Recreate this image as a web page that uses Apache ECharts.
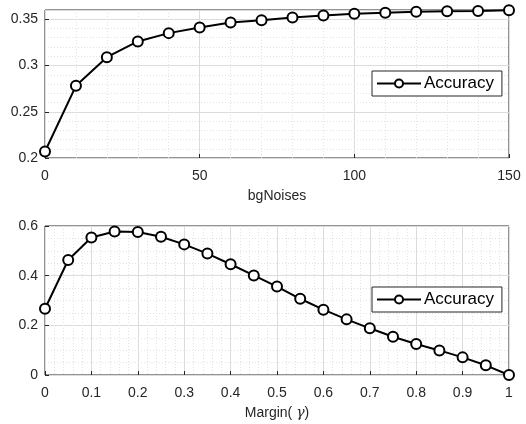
<!DOCTYPE html>
<html>
<head>
<meta charset="utf-8">
<script src="https://cdn.jsdelivr.net/npm/echarts@6/dist/echarts.min.js"></script>
<style>html,body{margin:0;padding:0;background:#fff}#c{width:526px;height:424px}</style>
</head>
<body>
<div id="c"></div>
<script>
// Top panel: accuracy vs bgNoises
var noiseX = [0,10,20,30,40,50,60,70,80,90,100,110,120,130,140,150];
var noiseAcc = [0.207,0.278,0.309,0.326,0.335,0.341,0.3465,0.349,0.352,0.354,0.356,0.357,0.358,0.3587,0.359,0.3597];
// Bottom panel: accuracy vs margin gamma
var marginX = [0,0.05,0.1,0.15,0.2,0.25,0.3,0.35,0.4,0.45,0.5,0.55,0.6,0.65,0.7,0.75,0.8,0.85,0.9,0.95,1];
var marginAcc = [0.267,0.463,0.554,0.578,0.576,0.557,0.526,0.489,0.446,0.401,0.356,0.307,0.263,0.224,0.188,0.154,0.125,0.099,0.071,0.039,0];
var seriesName = 'Accuracy';
var xName1 = 'bgNoises';
var xName2 = 'Margin( {g|γ})';

var FONT = 'Liberation Sans, Arial, sans-serif';
var TXT = '#262626';
var MAJOR = '#dcdcdc';
var MINOR = '#e2e2e2';

function pairs(xs, ys){ return xs.map(function(x,i){ return [x, ys[i]]; }); }

var chart = echarts.init(document.getElementById('c'), null, {renderer:'canvas'});
var lbl = {color: TXT, fontSize: 14, fontFamily: FONT};
var tick = {show:true, inside:true, length:4, lineStyle:{color:TXT}};
var option = {
  backgroundColor: '#fff',
  animation: false,
  grid: [
    {left:45, top:10, width:464, height:148, show:true, borderColor:TXT, borderWidth:1, backgroundColor:'transparent'},
    {left:45, top:226, width:464, height:149, show:true, borderColor:TXT, borderWidth:1, backgroundColor:'transparent'}
  ],
  xAxis: [
    {gridIndex:0, type:'value', min:0, max:150, interval:50,
     axisLine:{show:false}, axisTick:tick,
     axisLabel:Object.assign({margin:11}, lbl),
     splitLine:{show:true, lineStyle:{color:MAJOR, width:1}},
     minorTick:{show:false, splitNumber:5},
     minorSplitLine:{show:true, lineStyle:{color:MINOR, type:[1,2], width:1}},
     name:xName1, nameLocation:'middle', nameGap:31,
     nameTextStyle:{color:TXT, fontSize:14, fontFamily:FONT}},
    {gridIndex:1, type:'value', min:0, max:1, interval:0.1,
     axisLine:{show:false}, axisTick:tick,
     axisLabel:Object.assign({margin:11}, lbl),
     splitLine:{show:true, lineStyle:{color:MAJOR, width:1}},
     minorTick:{show:false, splitNumber:5},
     minorSplitLine:{show:true, lineStyle:{color:MINOR, type:[1,2], width:1}},
     name:xName2, nameLocation:'middle', nameGap:31,
     nameTextStyle:{color:TXT, fontSize:14, fontFamily:FONT,
       rich:{g:{fontStyle:'italic', fontSize:14, fontFamily:'DejaVu Serif, serif', color:TXT}}}}
  ],
  yAxis: [
    {gridIndex:0, type:'value', position:'left', min:0.2, max:0.36, interval:0.01,
     axisLine:{show:false}, axisTick:{show:false}, axisLabel:{show:false},
     splitLine:{show:true, lineStyle:{color:MINOR, type:[1,2], width:1}}},
    {gridIndex:0, type:'value', position:'left', min:0.2, max:0.36, interval:0.05,
     axisLine:{show:false}, axisTick:tick,
     axisLabel:Object.assign({margin:7, showMaxLabel:false}, lbl),
     splitLine:{show:true, lineStyle:{color:MAJOR, width:1}}},
    {gridIndex:1, type:'value', position:'left', min:0, max:0.6, interval:0.2,
     axisLine:{show:false}, axisTick:tick,
     axisLabel:Object.assign({margin:7}, lbl),
     splitLine:{show:true, lineStyle:{color:MAJOR, width:1}},
     minorTick:{show:false, splitNumber:4},
     minorSplitLine:{show:true, lineStyle:{color:MINOR, type:[1,2], width:1}}}
  ],
  legend: [
    {left:372, top:71, padding:[4,8,4,4], itemWidth:44, itemHeight:10, itemGap:0,
     backgroundColor:'#fff', borderColor:TXT, borderWidth:1, borderRadius:0,
     textStyle:{color:'#000', fontSize:17, fontFamily:FONT, padding:[0,0,0,-2]},
     data:[seriesName]},
    {left:372, top:287, padding:[4,8,4,4], itemWidth:44, itemHeight:10, itemGap:0,
     backgroundColor:'#fff', borderColor:TXT, borderWidth:1, borderRadius:0,
     textStyle:{color:'#000', fontSize:17, fontFamily:FONT, padding:[0,0,0,-2]},
     data:[seriesName]}
  ],
  series: [
    {name:seriesName, type:'line', xAxisIndex:0, yAxisIndex:1, data:pairs(noiseX, noiseAcc),
     symbol:'emptyCircle', symbolSize:10, clip:false,
     lineStyle:{color:'#000', width:2}, itemStyle:{color:'#000', borderColor:'#000', borderWidth:2}, z:5},
    {name:seriesName, type:'line', xAxisIndex:1, yAxisIndex:2, data:pairs(marginX, marginAcc),
     symbol:'emptyCircle', symbolSize:10, clip:false,
     lineStyle:{color:'#000', width:2}, itemStyle:{color:'#000', borderColor:'#000', borderWidth:2}, z:5}
  ]
};
chart.setOption(option);
</script>
</body>
</html>
